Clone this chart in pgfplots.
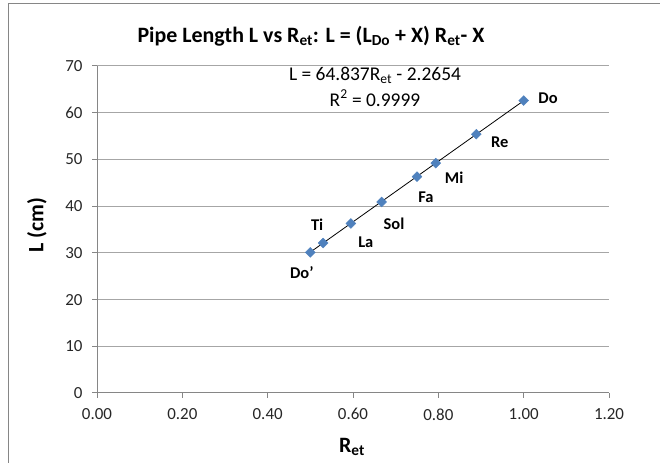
\documentclass[border=0pt]{standalone}
\usepackage{pgfplots}
\pgfplotsset{compat=1.18}
\usepackage{fontspec}
\setmainfont{Carlito}
\definecolor{mk}{HTML}{4F81BD}
\definecolor{gridc}{HTML}{A6A6A6}
\definecolor{axc}{HTML}{868686}
\begin{document}
\begin{tikzpicture}[x=1bp,y=1bp]
\useasboundingbox (0,0) rectangle (660,463);
\draw[axc, line width=1bp] (8,-5) -- (8,459) -- (670,459);
\begin{axis}[
  at={(97bp,70bp)}, anchor=south west,
  width=512bp, height=327bp, scale only axis,
  xmin=0, xmax=1.2, ymin=0, ymax=70,
  xtick={0,0.2,...,1.2}, ytick={0,10,...,70},
  axis x line=bottom, axis y line=left,
  axis line style={-, axc, line width=1bp},
  tick align=outside, major tick length=5bp,
  tick style={axc, line width=1bp},
  ymajorgrids=true, grid style={gridc, line width=1bp},
  xticklabel style={/pgf/number format/fixed, /pgf/number format/fixed zerofill, /pgf/number format/precision=2, font=\fontsize{17}{20}\selectfont, text=black!85, yshift=-7bp},
  yticklabel style={font=\fontsize{17}{20}\selectfont, text=black!85, xshift=-6bp},
  /pgf/number format/assume math mode=true,
  clip=false,
]
\addplot[black, line width=0.8bp, forget plot] coordinates {(0.5,30.153) (1.0,62.572)};
\addplot[only marks, mark=square*, mark size=3.5bp, mark options={fill=mk, draw=mk, rotate=45}] coordinates {
(1.0,62.6) (0.889,55.4) (0.794,49.2) (0.75,46.3) (0.667,40.9) (0.595,36.3) (0.53,32.1) (0.5,30.1)};
\begin{scope}[every node/.style={font=\bfseries\fontsize{16.5}{19}\selectfont}]
\node at (axis cs:1.057,63.2) {Do};
\node at (axis cs:0.944,53.7) {Re};
\node at (axis cs:0.837,46.0) {Mi};
\node at (axis cs:0.771,42.0) {Fa};
\node at (axis cs:0.696,36.2) {Sol};
\node at (axis cs:0.516,36.0) {Ti};
\node at (axis cs:0.630,32.3) {La};
\node at (axis cs:0.480,25.7) {Do\char"0027};
\end{scope}
\end{axis}
\node[font=\fontsize{19.5}{22}\selectfont] at (375,388) {L = 64.837R\textsubscript{et} - 2.2654};
\node[font=\fontsize{19.5}{22}\selectfont] at (375,365) {R\textsuperscript{2} = 0.9999};
\node[font=\bfseries\fontsize{22}{26}\selectfont] at (311,427) {Pipe Length L vs R\textsubscript{et}: L = (L\textsubscript{Do} + X) R\textsubscript{et}- X};
\node[font=\bfseries\fontsize{22}{26}\selectfont] at (352,16) {R\textsubscript{et}};
\node[font=\bfseries\fontsize{22}{26}\selectfont, rotate=90] at (37,238) {L (cm)};
\end{tikzpicture}
\end{document}
